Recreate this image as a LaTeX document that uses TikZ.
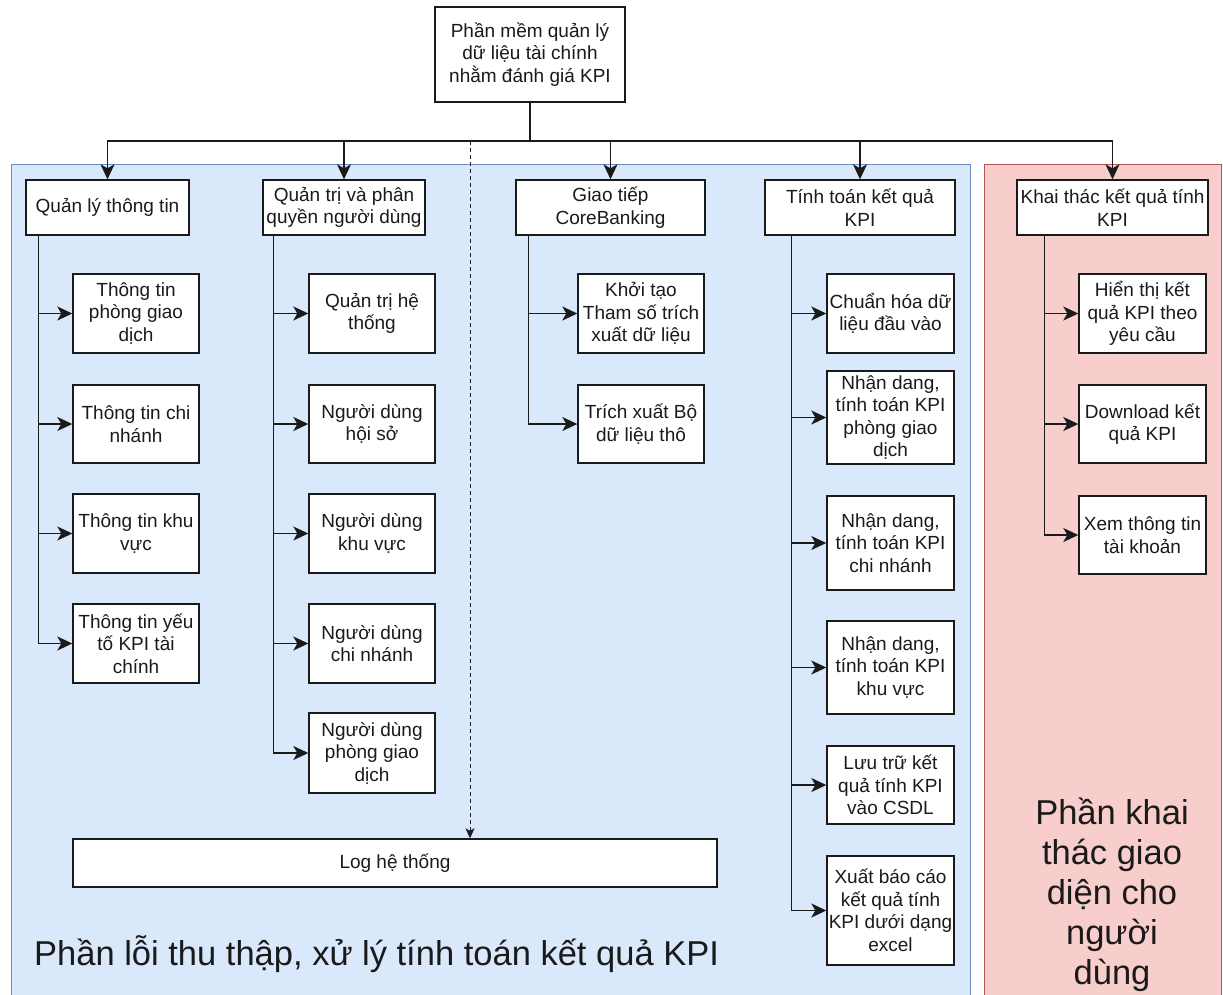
\documentclass[tikz,border=0pt]{standalone}
\usepackage{fontspec}
\setmainfont{Liberation Sans}
\usetikzlibrary{arrows.meta,calc}

\definecolor{coreFill}{HTML}{DAE8FC}
\definecolor{coreLine}{HTML}{6C8EBF}
\definecolor{uiFill}{HTML}{F8CECC}
\definecolor{uiLine}{HTML}{B85450}
\definecolor{ink}{HTML}{1A1A1A}

\begin{document}
\begin{tikzpicture}[x=1pt,y=-1pt,
  box/.style={draw=ink, line width=1.4pt, fill=white, align=center,
    inner sep=1pt, text=ink, font=\fontsize{19}{22.5}\selectfont},
  headbox/.style={box, minimum height=55pt},
  leafbox/.style={box, minimum width=126pt},
  tree/.style={draw=ink, line width=1.6pt,
    -{Stealth[length=15pt,width=14pt,inset=4pt]}},
  dashlink/.style={draw=ink, line width=1pt, dash pattern=on 4pt off 3pt,
    -{Stealth[length=10pt,width=9pt,inset=2.5pt]}},
  region/.style={line width=1pt},
  bigtext/.style={text=ink, inner sep=0pt,
    font=\fontsize{34.5}{40}\selectfont}
]
% page and background
\useasboundingbox (0,0) rectangle (1223,994);
\fill[white] (0,0) rectangle (1223,994);

% the two functional areas
\filldraw[region, fill=coreFill, draw=coreLine] (11,164) rectangle (970,1004);
\filldraw[region, fill=uiFill, draw=uiLine] (984,164) rectangle (1221,1004);

% root
\node[box, minimum width=190pt, minimum height=95pt] (top) at (530,54.5)
  {Phần mềm quản lý\\dữ liệu tài chính\\nhằm đánh giá KPI};

% first level
\node[headbox, minimum width=163pt] (p1) at (107.5,207.5) {Quản lý thông tin};
\node[headbox, minimum width=162pt] (p2) at (344,207.5) {Quản trị và phân\\quyền người dùng};
\node[headbox, minimum width=189pt] (p3) at (610.5,207.5) {Giao tiếp\\CoreBanking};
\node[headbox, minimum width=190pt] (p4) at (860,207.5) {Tính toán kết quả\\KPI};
\node[headbox, minimum width=191pt] (p5) at (1112.5,207.5) {Khai thác kết quả tính\\KPI};

% information management
\node[leafbox, minimum height=79pt] (c1a) at (136,313.5) {Thông tin\\phòng giao\\dịch};
\node[leafbox, minimum height=78pt] (c1b) at (136,424) {Thông tin chi\\nhánh};
\node[leafbox, minimum height=79pt] (c1c) at (136,533.5) {Thông tin khu\\vực};
\node[leafbox, minimum height=79pt] (c1d) at (136,643.5) {Thông tin yếu\\tố KPI tài\\chính};

% user administration
\node[leafbox, minimum height=79pt] (c2a) at (372,313.5) {Quản trị hệ\\thống};
\node[leafbox, minimum height=78pt] (c2b) at (372,424) {Người dùng\\hội sở};
\node[leafbox, minimum height=79pt] (c2c) at (372,533.5) {Người dùng\\khu vực};
\node[leafbox, minimum height=79pt] (c2d) at (372,643.5) {Người dùng\\chi nhánh};
\node[leafbox, minimum height=80pt] (c2e) at (372,753) {Người dùng\\phòng giao\\dịch};

% CoreBanking interface
\node[leafbox, minimum height=79pt] (c3a) at (641,313.5) {Khởi tạo\\Tham số trích\\xuất dữ liệu};
\node[leafbox, minimum height=78pt] (c3b) at (641,424) {Trích xuất Bộ\\dữ liệu thô};

% KPI computation
\node[leafbox, minimum width=127pt, minimum height=79pt] (c4a) at (890.5,313.5) {Chuẩn hóa dữ\\liệu đầu vào};
\node[leafbox, minimum width=127pt, minimum height=93pt] (c4b) at (890.5,417.5) {Nhận dang,\\tính toán KPI\\phòng giao\\dịch};
\node[leafbox, minimum width=127pt, minimum height=94pt] (c4c) at (890.5,543) {Nhận dang,\\tính toán KPI\\chi nhánh};
\node[leafbox, minimum width=127pt, minimum height=93pt] (c4d) at (890.5,667.5) {Nhận dang,\\tính toán KPI\\khu vực};
\node[leafbox, minimum width=127pt, minimum height=78pt] (c4e) at (890.5,785) {Lưu trữ kết\\quả tính KPI\\vào CSDL};
\node[leafbox, minimum width=127pt, minimum height=109pt] (c4f) at (890.5,910.5) {Xuất báo cáo\\kết quả tính\\KPI dưới dạng\\excel};

% result exploitation
\node[leafbox, minimum width=127pt, minimum height=79pt] (c5a) at (1142.5,313.5) {Hiển thị kết\\quả KPI theo\\yêu cầu};
\node[leafbox, minimum width=127pt, minimum height=78pt] (c5b) at (1142.5,424) {Download kết\\quả KPI};
\node[leafbox, minimum width=127pt, minimum height=78pt] (c5c) at (1142.5,535) {Xem thông tin\\tài khoản};

% system log
\node[box, minimum width=644pt, minimum height=48pt] (log) at (395,863) {Log hệ thống};

% area captions
\node[bigtext, anchor=base west] (coreLabel) at (34,965)
  {Phần lỗi thu thập, xử lý tính toán kết quả KPI};
\node[bigtext, align=center] (uiLabel) at (1112,895)
  {Phần khai\\thác giao\\diện cho\\người\\dùng};

% root to first level
\coordinate (bus) at (530,141);
\coordinate (tap) at (470,141);
\foreach \p in {p1,p2,p3,p4,p5}
  \draw[tree] (top.south) -- (bus) -| (\p.north);
\draw[dashlink] (tap) -- (tap |- log.north);

% first level to leaves
\foreach \c in {c1a,c1b,c1c,c1d}
  \draw[tree] ($(p1.south west)+(13,0)$) |- (\c.west);
\foreach \c in {c2a,c2b,c2c,c2d,c2e}
  \draw[tree] ($(p2.south west)+(11,0)$) |- (\c.west);
\foreach \c in {c3a,c3b}
  \draw[tree] ($(p3.south west)+(13,0)$) |- (\c.west);
\foreach \c in {c4a,c4b,c4c,c4d,c4e,c4f}
  \draw[tree] ($(p4.south west)+(27,0)$) |- (\c.west);
\foreach \c in {c5a,c5b,c5c}
  \draw[tree] ($(p5.south west)+(28,0)$) |- (\c.west);
\end{tikzpicture}
\end{document}
